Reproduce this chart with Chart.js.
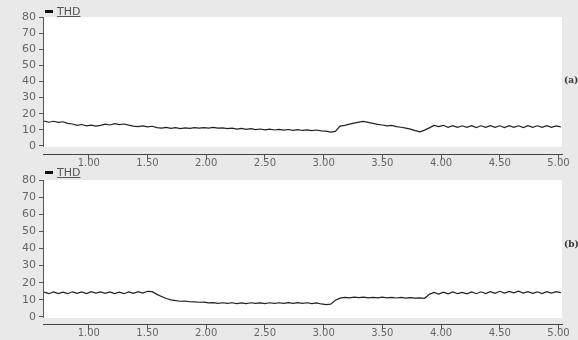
<!DOCTYPE html>
<html>
<head>
<meta charset="utf-8">
<script src="https://cdn.jsdelivr.net/npm/chart.js@4.4.0/dist/chart.umd.min.js"></script>
<style>
  html, body { margin: 0; padding: 0; background: #e9e9e9; width: 578px; height: 340px; overflow: hidden; }
  .wrap { position: absolute; left: 0; width: 578px; height: 170px; }
  canvas { display: block; }
  .legend { position: absolute; left: 45px; font: 11px "DejaVu Sans", sans-serif; color: #555; display: flex; align-items: center; }
  .legend .mk { display: inline-block; width: 8px; height: 3px; background: #111; margin-right: 4px; }
  .legend .tx { text-decoration: underline; }
  .tag { position: absolute; left: 564px; font: bold 9px "DejaVu Serif", serif; color: #333; }
</style>
</head>
<body>
<div class="wrap" style="top:0"><canvas id="ca" width="578" height="170"></canvas></div>
<div class="wrap" style="top:170px"><canvas id="cb" width="578" height="170"></canvas></div>
<div class="legend" style="top:5px"><span class="mk"></span><span class="tx">THD</span></div>
<div class="legend" style="top:166px"><span class="mk"></span><span class="tx">THD</span></div>
<div class="tag" style="top:75px">(a)</div>
<div class="tag" style="top:239px">(b)</div>
<script>
const seriesName = "THD";
const xTickValues = [1.00, 1.50, 2.00, 2.50, 3.00, 3.50, 4.00, 4.50, 5.00];
const yTickValues = [0, 10, 20, 30, 40, 50, 60, 70, 80];
const panelLabels = ["(a)", "(b)"];

const times = [
  0.62,0.66,0.70,0.74,0.78,0.82,0.86,0.90,0.94,0.98,
  1.02,1.06,1.10,1.14,1.18,1.22,1.26,1.30,1.34,1.38,
  1.42,1.46,1.50,1.54,1.58,1.62,1.66,1.70,1.74,1.78,
  1.82,1.86,1.90,1.94,1.98,2.02,2.06,2.10,2.14,2.18,
  2.22,2.26,2.30,2.34,2.38,2.42,2.46,2.50,2.54,2.58,
  2.62,2.66,2.70,2.74,2.78,2.82,2.86,2.90,2.94,2.98,
  3.02,3.06,3.10,3.14,3.18,3.22,3.26,3.30,3.34,3.38,
  3.42,3.46,3.50,3.54,3.58,3.62,3.66,3.70,3.74,3.78,
  3.82,3.86,3.90,3.94,3.98,4.02,4.06,4.10,4.14,4.18,
  4.22,4.26,4.30,4.34,4.38,4.42,4.46,4.50,4.54,4.58,
  4.62,4.66,4.70,4.74,4.78,4.82,4.86,4.90,4.94,4.98,
  5.02
];

const thdA = [
  15.4,14.7,15.3,14.6,15.0,14.0,13.6,12.8,13.3,12.5,
  12.9,12.3,12.8,13.5,13.0,13.8,13.2,13.6,12.9,12.3,
  12.0,12.5,11.8,12.2,11.4,11.0,11.5,10.9,11.3,10.8,
  11.2,10.9,11.3,11.0,11.4,11.1,11.5,11.0,11.2,10.7,
  11.1,10.5,10.9,10.3,10.7,10.1,10.5,10.0,10.4,9.9,
  10.3,9.8,10.2,9.7,10.1,9.6,10.0,9.5,9.9,9.3,
  9.2,8.6,9.0,12.3,12.8,13.5,14.2,14.8,15.2,14.6,
  14.0,13.4,13.0,12.4,12.8,12.0,11.6,11.0,10.4,9.5,
  8.8,9.8,11.2,12.7,12.0,12.8,11.6,12.6,11.5,12.5,
  11.6,12.6,11.4,12.5,11.5,12.6,11.5,12.5,11.4,12.6,
  11.5,12.5,11.4,12.6,11.5,12.5,11.6,12.6,11.5,12.4,
  11.8
];

const thdB = [
  14.5,13.6,14.6,13.7,14.5,13.6,14.7,13.8,14.6,13.7,
  14.8,13.9,14.7,13.8,14.6,13.7,14.5,13.6,14.6,13.8,
  14.8,14.0,15.0,14.8,13.2,12.0,10.8,10.0,9.5,9.2,
  9.3,8.9,8.8,8.6,8.7,8.2,8.4,7.9,8.3,7.9,
  8.3,7.8,8.2,7.8,8.3,7.9,8.2,7.8,8.3,7.9,
  8.3,7.9,8.4,8.0,8.4,7.9,8.3,7.8,8.2,7.6,
  7.2,7.5,9.8,11.0,11.4,11.2,11.6,11.3,11.6,11.2,
  11.5,11.2,11.6,11.2,11.5,11.1,11.4,11.0,11.3,11.0,
  11.2,10.9,13.2,14.3,13.4,14.5,13.5,14.6,13.6,14.4,
  13.5,14.6,13.6,14.7,13.7,14.8,13.8,15.0,14.0,14.9,
  14.1,15.1,14.0,14.8,13.8,14.7,13.7,14.8,13.9,14.8,
  14.2
];

const panelPlugin = {
  id: 'panel',
  beforeDraw(chart) {
    const { ctx, chartArea, scales } = chart;
    const y0 = scales.y.getPixelForValue(0);
    ctx.save();
    ctx.fillStyle = '#ffffff';
    ctx.fillRect(chartArea.left, chartArea.top, chartArea.right - chartArea.left, y0 + 1 - chartArea.top);
    ctx.restore();
  },
  afterDraw(chart) {
    const { ctx, chartArea, scales } = chart;
    const yTop = scales.y.getPixelForValue(80);
    const y0 = scales.y.getPixelForValue(0);
    ctx.save();
    ctx.strokeStyle = '#555';
    ctx.lineWidth = 1;
    ctx.beginPath();
    ctx.moveTo(Math.round(chartArea.left) + 0.5, yTop);
    ctx.lineTo(Math.round(chartArea.left) + 0.5, y0 + 1);
    ctx.stroke();
    ctx.restore();
  }
};

function makeChart(id, values, yMin, padTop) {
  const pts = times.map((t, i) => ({ x: t, y: values[i] }));
  return new Chart(document.getElementById(id), {
    type: 'line',
    data: { datasets: [{ label: seriesName, data: pts, borderColor: '#222', borderWidth: 1.2, pointRadius: 0, tension: 0, fill: false }] },
    options: {
      responsive: false,
      animation: false,
      events: [],
      layout: { padding: { top: padTop, right: 16, left: 0, bottom: 0 } },
      plugins: { legend: { display: false }, tooltip: { enabled: false } },
      scales: {
        x: {
          type: 'linear', min: 0.61, max: 5.03,
          afterBuildTicks: s => { s.ticks = xTickValues.map(v => ({ value: v })); },
          afterFit: s => { s.height = 16; },
          ticks: { callback: v => Number(v).toFixed(2), font: { family: 'DejaVu Sans', size: 10 }, color: '#666', maxRotation: 0, autoSkip: false, padding: -3 },
          grid: { drawOnChartArea: false, tickLength: 6, color: '#555' },
          border: { color: '#444' }
        },
        y: {
          type: 'linear', min: yMin, max: 80,
          afterBuildTicks: s => { s.ticks = yTickValues.map(v => ({ value: v })); },
          afterFit: s => { s.width = 43; },
          ticks: { font: { family: 'DejaVu Sans', size: 11 }, color: '#666', padding: 3 },
          grid: { drawOnChartArea: false, tickLength: 4, color: '#555' },
          border: { display: false }
        }
      }
    },
    plugins: [panelPlugin]
  });
}

makeChart('ca', thdA, -5, 17);
makeChart('cb', thdB, -4.1, 10);
</script>
</body>
</html>
